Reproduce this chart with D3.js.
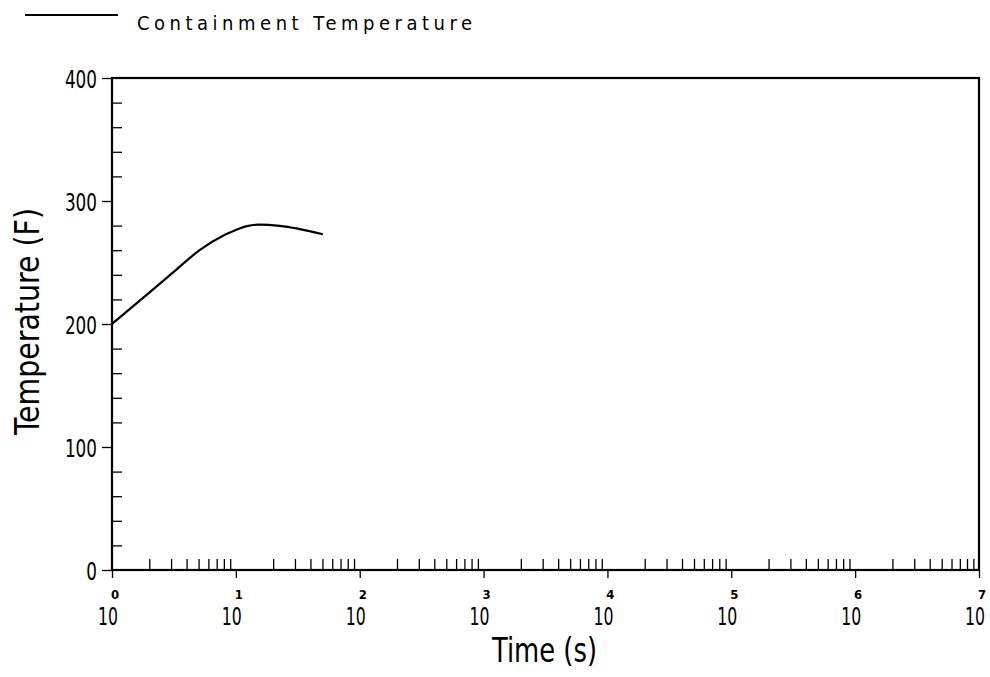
<!DOCTYPE html>
<html>
<head>
<meta charset="utf-8">
<script src="https://cdn.jsdelivr.net/npm/d3@7"></script>
<style>
  body { margin: 0; background: #fff; }
  svg text { font-family: "DejaVu Sans Condensed", "Liberation Sans Narrow", "DejaVu Sans", sans-serif; fill: #000; }
</style>
</head>
<body>
<svg id="chart" width="990" height="677"></svg>
<script>

// values
const timeS = [1, 2, 3, 5.1, 8.15, 10, 12.3, 15.6, 22.6, 50.4];
const tempF = [200, 225.5, 240.5, 260, 272.5, 276.5, 279.6, 280.8, 279.8, 273];

const yMajor = [0, 100, 200, 300, 400];
const yMinor = d3.range(0, 401, 20).filter(function(v){ return v % 100 != 0 });
const xExponents = [0, 1, 2, 3, 4, 5, 6, 7];
const seriesName = "Containment Temperature";

let svg = d3.select('#chart'),
    margin = {top: 78, right: 11, bottom: 107, left: 112},
    width = 990 - margin.left - margin.right,
    height = 677 - margin.top - margin.bottom;

let g = svg.append("g")
    .attr("transform", `translate(${margin.left},${margin.top})`);

let xScale = d3.scaleLog()
    .domain([1, 1e7])
    .range([0, width]);

let yScale = d3.scaleLinear()
    .domain([0, 400])
    .range([height, 0]);

// minor ticks 2..9 per decade
let xMinor = [];
xExponents.slice(0, -1).forEach(function(e){
    for (let k = 2; k <= 9; k++) xMinor.push(k * Math.pow(10, e));
});
let xMajor = xExponents.map(function(e){ return Math.pow(10, e) });

function styleAxis(sel){
    sel.select(".domain").remove();
    sel.selectAll("line").attr("stroke", "#000").attr("stroke-width", 1.3);
    sel.selectAll("text").remove();
}

// x ticks
g.append("g")
    .attr("transform", `translate(0,${height})`)
    .call(d3.axisBottom(xScale).tickValues(xMajor).tickSize(8).tickFormat(""))
    .call(styleAxis);

g.append("g")
    .attr("transform", `translate(0,${height})`)
    .call(d3.axisTop(xScale).tickValues(xMinor).tickSize(11).tickFormat(""))
    .call(styleAxis);

// y ticks
g.append("g")
    .call(d3.axisLeft(yScale).tickValues(yMajor).tickSize(10).tickFormat(""))
    .call(styleAxis);

g.append("g")
    .call(d3.axisRight(yScale).tickValues(yMinor).tickSize(10).tickFormat(""))
    .call(styleAxis);

// frame
g.append("rect")
    .attr("width", width)
    .attr("height", height)
    .attr("fill", "none")
    .attr("stroke", "#000")
    .attr("stroke-width", 2.2);

// y tick labels
g.selectAll(".ylab")
    .data(yMajor)
    .enter()
    .append("text")
    .attr("x", -15)
    .attr("y", function(d){ return yScale(d) + 10 })
    .attr("text-anchor", "end")
    .attr("font-size", 25)
    .attr("font-weight", 300)
    .attr("textLength", function(d){ return String(d).length * 10.7 })
    .attr("lengthAdjust", "spacingAndGlyphs")
    .text(function(d){ return d });

// x tick labels: 10 with exponent above
let xl = g.selectAll(".xlab")
    .data(xExponents)
    .enter()
    .append("g")
    .attr("transform", function(d){ return `translate(${xScale(Math.pow(10, d))},${height})` });

xl.append("text")
    .attr("x", -14)
    .attr("y", 55)
    .attr("font-size", 25)
    .attr("font-weight", 300)
    .attr("textLength", 20)
    .attr("lengthAdjust", "spacingAndGlyphs")
    .text("10");

xl.append("text")
    .attr("x", 3)
    .attr("y", 29)
    .attr("text-anchor", "middle")
    .attr("font-size", 13)
    .attr("font-weight", "bold")
    .text(function(d){ return d });

// axis titles
svg.append("text")
    .attr("x", 492)
    .attr("y", 662)
    .attr("font-size", 33)
    .attr("font-weight", 200)
    .attr("textLength", 105)
    .attr("lengthAdjust", "spacingAndGlyphs")
    .text("Time (s)");

svg.append("text")
    .attr("transform", "translate(39,435) rotate(-90)")
    .attr("font-size", 33)
    .attr("font-weight", 200)
    .attr("textLength", 227)
    .attr("lengthAdjust", "spacingAndGlyphs")
    .text("Temperature (F)");

// curve
let line = d3.line()
    .x(function(d){ return xScale(d[0]) })
    .y(function(d){ return yScale(d[1]) })
    .curve(d3.curveMonotoneX);

g.append("path")
    .datum(timeS.map(function(t, i){ return [t, tempF[i]] }))
    .attr("d", line)
    .attr("fill", "none")
    .attr("stroke", "#000")
    .attr("stroke-width", 2.2);

// legend
svg.append("line")
    .attr("x1", 25).attr("x2", 118)
    .attr("y1", 15).attr("y2", 15)
    .attr("stroke", "#000")
    .attr("stroke-width", 2);

svg.append("text")
    .attr("x", 137)
    .attr("y", 30)
    .attr("font-size", 20)
    .attr("font-weight", 300)
    .attr("textLength", 335)
    .attr("lengthAdjust", "spacing")
    .text(seriesName);

</script>
</body>
</html>
